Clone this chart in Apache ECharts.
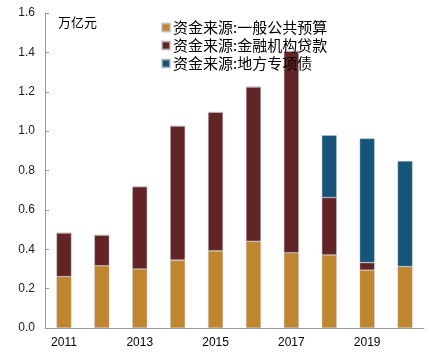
<!DOCTYPE html>
<html><head><meta charset="utf-8">
<script src="https://cdn.jsdelivr.net/npm/echarts@6/dist/echarts.min.js"></script>
<style>html,body{margin:0;padding:0;background:#fff}#c{width:435px;height:356px}</style>
</head><body><div id="c"></div>
<script>
const categories = ['2011','2012','2013','2014','2015','2016','2017','2018','2019','2020'];
const seriesNames = ['资金来源:一般公共预算','资金来源:金融机构贷款','资金来源:地方专项债'];
const budget = [0.261, 0.316, 0.300, 0.345, 0.392, 0.441, 0.382, 0.371, 0.294, 0.312];
const loans  = [0.222, 0.156, 0.418, 0.681, 0.704, 0.784, 1.024, 0.292, 0.038, -0.008];
const bonds  = [0, 0, 0, 0, 0, 0, 0, 0.316, 0.631, 0.536];
const colors = ['#C0852F', '#622425', '#165479'];
const unitLabel = '万亿元';

const chart = echarts.init(document.getElementById('c'), null, {renderer:'canvas'});
const mk = (name, data, color) => ({
  name, type:'bar', stack:'total', data, barWidth:15,
  itemStyle:{color, borderColor:'rgba(190,190,190,0.7)', borderWidth:0.6},
  emphasis:{disabled:true}
});
chart.setOption({
  animation:false,
  textStyle:{fontFamily:'"Liberation Sans", Arial, "Noto Sans CJK SC", sans-serif'},
  grid:{left:45, right:11, top:13, bottom:28},
  legend:{
    orient:'vertical', left:156, top:15, itemWidth:8, itemHeight:8, itemGap:3,
    icon:'rect',
    textStyle:{fontSize:15, lineHeight:15, color:'#000', fontFamily:'"Noto Sans CJK SC", sans-serif', padding:[0,0,0,-2]},
    data:seriesNames
  },
  graphic:[{type:'text', left:58, top:16, style:{text:unitLabel, fontSize:13, fill:'#000', fontFamily:'"Noto Sans CJK SC", sans-serif'}}],
  xAxis:{
    type:'category', data:categories, boundaryGap:true,
    axisLine:{lineStyle:{color:'#999'}},
    axisTick:{inside:true, length:3, interval:1, lineStyle:{color:'#999'}},
    axisLabel:{interval:1, fontSize:12, color:'#000', margin:9}
  },
  yAxis:{
    type:'value', min:0, max:1.6, interval:0.2,
    axisLine:{show:true, lineStyle:{color:'#999'}},
    axisTick:{show:true, inside:true, length:4, lineStyle:{color:'#999'}},
    splitLine:{show:false},
    axisLabel:{fontSize:12, color:'#1a1a2a', margin:10, formatter:v=>v.toFixed(1)}
  },
  series:[mk(seriesNames[0], budget, colors[0]), mk(seriesNames[1], loans, colors[1]), mk(seriesNames[2], bonds, colors[2])]
});
</script></body></html>
